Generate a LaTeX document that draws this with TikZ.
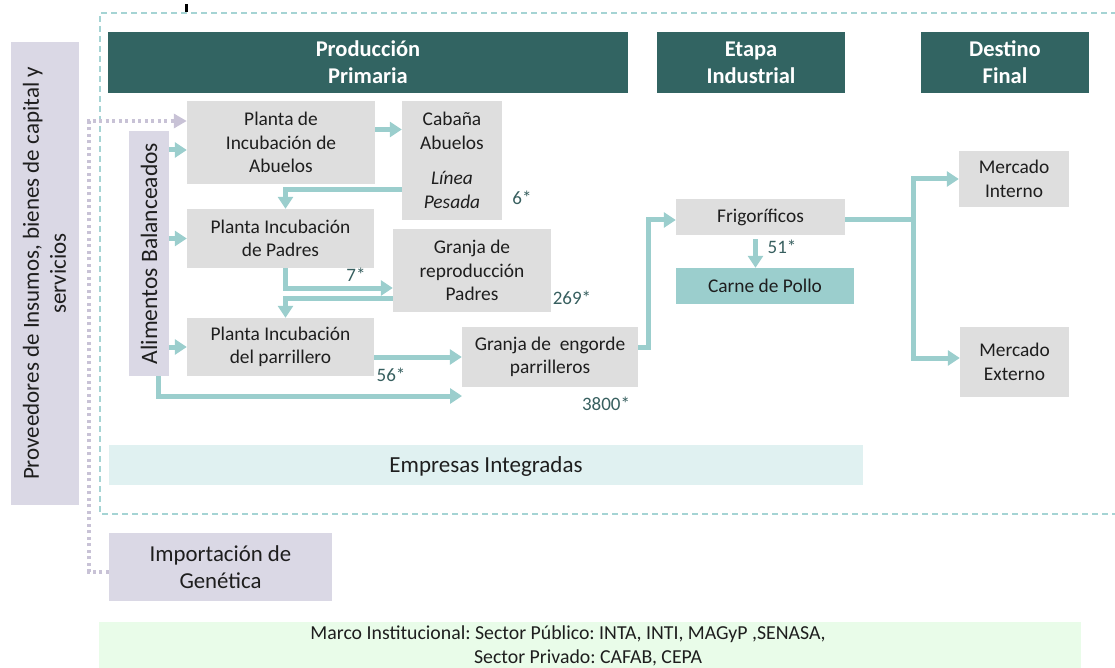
\documentclass[tikz,border=0pt]{standalone}
\usepackage{fontspec}
\setmainfont{Carlito}
\usetikzlibrary{arrows.meta,calc}
\frenchspacing
\definecolor{hdr}{RGB}{50,100,98}
\definecolor{gbox}{RGB}{222,222,222}
\definecolor{lav}{RGB}{218,216,229}
\definecolor{teal}{RGB}{155,206,205}
\definecolor{emp}{RGB}{224,241,241}
\definecolor{marco}{RGB}{233,252,233}
\definecolor{dashc}{RGB}{165,212,212}
\definecolor{dotc}{RGB}{200,194,214}
\definecolor{numc}{RGB}{55,95,95}
\definecolor{txt}{RGB}{30,30,30}
\newcommand{\bodyfont}{\fontsize{19.4}{23.5}\selectfont}
\begin{document}
\begin{tikzpicture}[x=1pt,y=-1pt,
  base/.style={inner sep=0pt, align=center, text=txt, font=\bodyfont},
  gray/.style={base, fill=gbox},
  lavbox/.style={base, fill=lav},
  hdrbox/.style={inner sep=0pt, align=center, fill=hdr, text=white, font=\fontsize{22.5}{27}\selectfont\bfseries},
  num/.style={inner sep=0pt, text=numc, font=\fontsize{19}{23}\selectfont},
  flow/.style={draw=teal, line width=5pt, -{Triangle[length=12pt,width=15pt]}},
  flowline/.style={draw=teal, line width=5pt},
  dotarrow/.style={draw=dotc, line width=4pt, dash pattern=on 3pt off 3.5pt, -{Triangle[length=13pt,width=14pt,fill=dotc]}}
]
\useasboundingbox (0,0) rectangle (1115,668);
% dashed frame
\draw[dashc, line width=1.2pt, dash pattern=on 6pt off 4pt] (1117,13) -- (100,13) -- (100,514) -- (1117,514);
\fill[black] (185,4) rectangle (188,12);
% headers
\node[hdrbox, minimum width=520pt, minimum height=61pt] (hpp) at (368,62.5) {Producción\\Primaria};
\node[hdrbox, minimum width=188pt, minimum height=61pt] (hei) at (751,62.5) {Etapa\\Industrial};
\node[hdrbox, minimum width=168pt, minimum height=61pt] (hdf) at (1005,62.5) {Destino\\Final};
% side boxes
\node[lavbox, minimum width=68pt, minimum height=463pt] (prov) at (44.5,273.5) {};
\node[base, rotate=90, font=\fontsize{23}{27}\selectfont] (provt) at (prov.center) {Proveedores de Insumos, bienes de capital y\\servicios};
\node[lavbox, minimum width=40pt, minimum height=245pt] (alim) at (149,253.5) {};
\node[base, rotate=90, font=\fontsize{23.5}{27}\selectfont] (alimt) at (alim.center) {Alimentos Balanceados};
% flow boxes
\node[gray, minimum width=188pt, minimum height=83pt] (pia) at (281,142.5) {Planta de\\Incubación de\\Abuelos};
\node[gray, minimum width=100pt, minimum height=119pt] (cab) at (452,160.5) {Cabaña\\Abuelos\\[12pt]\textit{Línea}\\\textit{Pesada}};
\node[gray, minimum width=187pt, minimum height=59pt] (pip) at (280.5,238.5) {Planta Incubación\\de Padres};
\node[gray, minimum width=158pt, minimum height=83pt] (grp) at (472,270.5) {Granja de\\reproducción\\Padres};
\node[gray, minimum width=187pt, minimum height=58pt] (pipa) at (280.5,347) {Planta Incubación\\del parrillero};
\node[gray, minimum width=176pt, minimum height=60pt] (gep) at (550,357) {Granja de~ engorde\\parrilleros};
\node[gray, minimum width=169pt, minimum height=36pt] (frig) at (760.5,217) {Frigoríficos};
\node[base, fill=teal, minimum width=178pt, minimum height=36pt] (carne) at (765,286) {Carne de Pollo};
\node[gray, minimum width=110pt, minimum height=56pt] (mi) at (1014,179) {Mercado\\Interno};
\node[gray, minimum width=109pt, minimum height=70pt] (me) at (1014.5,362) {Mercado\\Externo};
\node[base, fill=emp, minimum width=754pt, minimum height=40pt] (empb) at (486,465) {};
\node[base, font=\fontsize{23}{27}\selectfont] (empt) at (486,466) {Empresas Integradas};
\node[lavbox, minimum width=223pt, minimum height=68pt, font=\fontsize{22.8}{27}\selectfont] (imp) at (220.5,567) {Importación de\\Genética};
\node[base, fill=marco, minimum width=982pt, minimum height=46pt] (marcob) at (590,645) {};
\node[base, font=\fontsize{19.8}{24}\selectfont] (marcot) at (588,646) {Marco Institucional: Sector Público: INTA, INTI, MAGyP ,SENASA,\hspace*{40pt}\\Sector Privado: CAFAB, CEPA};
% numbers
\node[num] (n6) at (522,198) {6*};
\node[num] (n7) at (356,275) {7*};
\node[num] (n269) at (572,298) {269*};
\node[num] (n56) at (391,375) {56*};
\node[num] (n3800) at (606,404) {3800*};
\node[num] (n51) at (782,247) {51*};
% connectors
\coordinate (gepin) at (462,396);
\coordinate (split) at (913,220);
\coordinate (dtop) at (89,121);
\draw[flow] (alim.east |- 0,150) -- (pia.west |- 0,150);
\draw[flow] (alim.east |- pip.west) -- (pip.west);
\draw[flow] (alim.east |- pipa.west) -- (pipa.west);
\draw[flow] ([xshift=9pt]alim.south) |- (gepin);
\draw[flow] ([yshift=13pt]pia.east) -- ([yshift=13pt]pia.east -| cab.west);
\draw[flow] (cab.west |- 0,190) -| ([xshift=5pt]pip.north);
\draw[flow] ([xshift=5pt]pip.south) |- (grp.west |- 0,288);
\draw[flow] (grp.west |- 0,298) -| ([xshift=5pt]pipa.north);
\draw[flow] (pipa.east |- 0,357) -- (gep.west |- 0,357);
\draw[flow] ([yshift=10pt]gep.east) -- ++(10,0) |- (frig.west |- 0,220);
\draw[flow] ([xshift=-5pt,yshift=-4pt]frig.south) -- ([xshift=-5pt]frig.south |- carne.north);
\draw[flowline] (frig.east |- split) -- (split);
\draw[flow] (split) |- (mi.west);
\draw[flow] (split) |- (me.west |- 0,358);
\draw[dotarrow] ([yshift=-5pt]imp.west) -| (dtop) -- (dtop -| pia.west);
\end{tikzpicture}
\end{document}
